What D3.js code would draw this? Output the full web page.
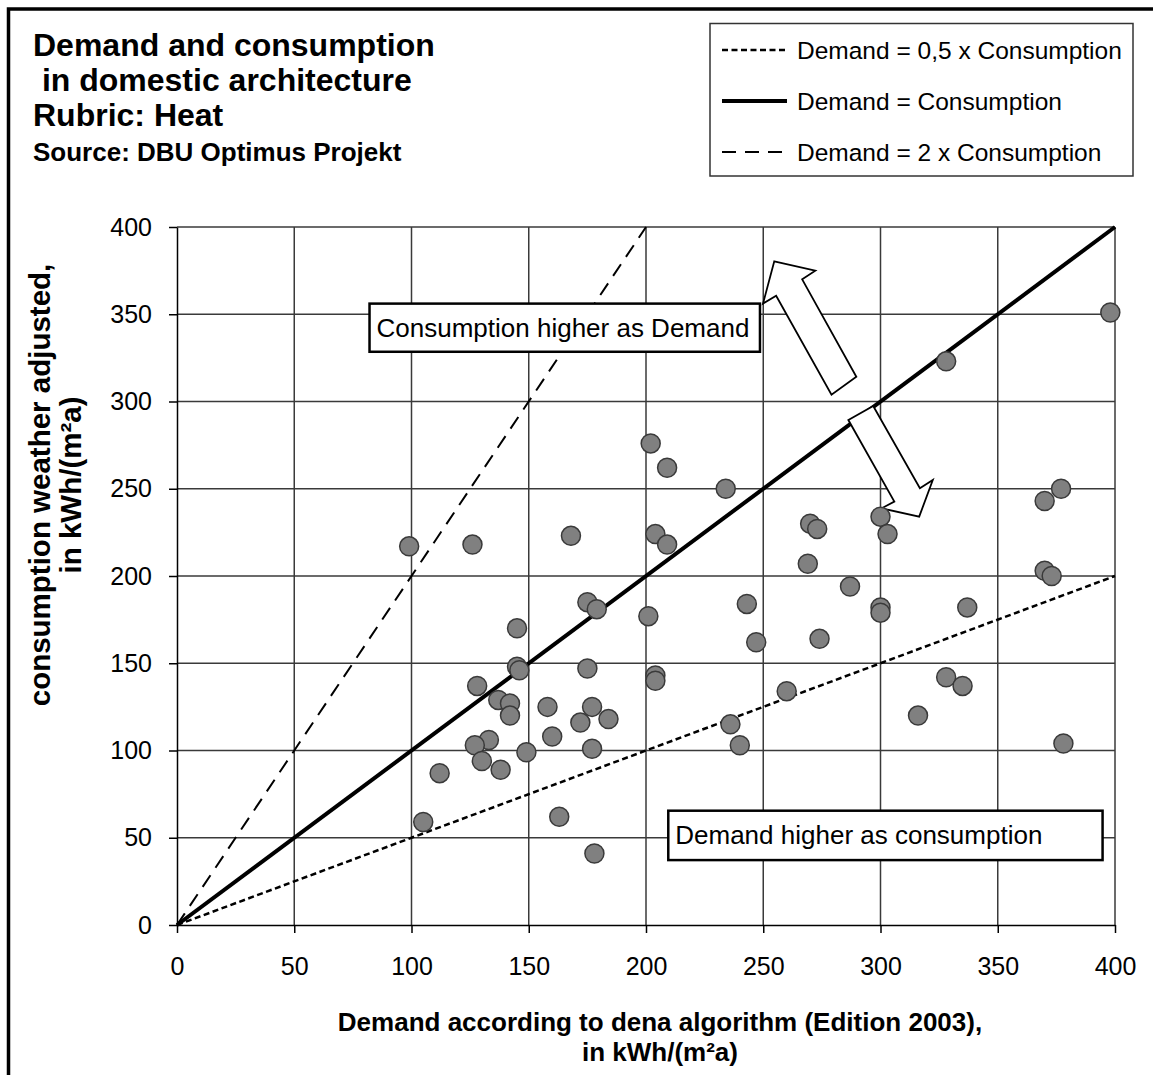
<!DOCTYPE html>
<html>
<head>
<meta charset="utf-8">
<script src="https://cdn.jsdelivr.net/npm/d3@7"></script>
<style>
body { margin:0; background:#fff; }
svg { display:block; font-family:"Liberation Sans", Arial, sans-serif; }
</style>
</head>
<body>
<div id="chart"></div>
<script>
// values (kWh/(m²a))
var demand = [202, 209, 234, 99, 126, 168, 204, 209, 175, 179, 201, 243, 247, 145, 145, 146,
	175, 204, 204, 128, 137, 142, 142, 158, 177, 172, 184, 160, 133, 127, 130, 149, 177, 138,
	112, 105, 163, 178, 236, 240, 260, 270, 273, 300, 303, 269, 287, 300, 300, 337, 370, 377,
	370, 373, 274, 328, 335, 316, 378, 398, 328];
var consumption = [276, 262, 250, 217, 218, 223, 224, 218, 185, 181, 177, 184, 162, 170, 148, 146,
	147, 143, 140, 137, 129, 127, 120, 125, 125, 116, 118, 108, 106, 103, 94, 99, 101, 89,
	87, 59, 62, 41, 115, 103, 134, 230, 227, 234, 224, 207, 194, 182, 179, 182, 243, 250,
	203, 200, 164, 142, 137, 120, 104, 351, 323];

var axisTicks = [0, 50, 100, 150, 200, 250, 300, 350, 400];

// reference lines: consumption = slope * demand
var refSlopes = [0.5, 1, 2];
var refLabels = ['Demand = 0,5 x Consumption', 'Demand = Consumption', 'Demand = 2 x Consumption'];

var titleLines = ['Demand and consumption', ' in domestic architecture', 'Rubric: Heat'];
var sourceLine = 'Source: DBU Optimus Projekt';
var xTitleLines = ['Demand according to dena algorithm (Edition 2003),', 'in kWh/(m²a)'];
var yTitleLines = ['consumption weather adjusted,', 'in kWh/(m²a)'];

// annotations, in data units
var noteUpper = {text: 'Consumption higher as Demand', x0: 82.1, x1: 248.6, y0: 356.1, y1: 328.5};
var noteLower = {text: 'Demand higher as consumption', x0: 209.5, x1: 394.7, y0: 65.5, y1: 37.2};
var arrowUp = [[254.7, 380.3], [272.2, 375], [266.6, 370], [289.7, 314.2], [279.1, 303.9], [255.5, 360.6], [249.9, 356.1]];
var arrowDown = [[286.3, 289.4], [296.9, 297.4], [316.8, 250.3], [322.3, 255], [316.5, 234], [300.5, 238.8], [305.9, 242.6]];

// layout
var svgWidth = 1153, svgHeight = 1075;
var plot = {left: 177, right: 1115, top: 227, bottom: 925};

var lineStyle = {
	0.5: {dash: '6,3.5', width: 2.5},
	1: {dash: null, width: 4},
	2: {dash: '14,9', width: 2}
};

var svg = d3.select('#chart').append('svg')
	.attr('width', svgWidth)
	.attr('height', svgHeight);

svg.append('rect').attr('width', svgWidth).attr('height', svgHeight).attr('fill', '#fff');

// outer frame (runs off the right and bottom edges)
svg.append('rect')
	.attr('x', 8.5).attr('y', 9)
	.attr('width', svgWidth + 20).attr('height', svgHeight + 20)
	.attr('fill', 'none').attr('stroke', '#000').attr('stroke-width', 3.5);

var x = d3.scaleLinear().domain([0, 400]).range([plot.left, plot.right]);
var y = d3.scaleLinear().domain([0, 400]).range([plot.bottom, plot.top]);

// gridlines
var grid = svg.append('g').attr('stroke', '#3a3a3a').attr('stroke-width', 1.5);
grid.selectAll('.gx').data(axisTicks.slice(1)).enter().append('line')
	.attr('x1', d => x(d)).attr('x2', d => x(d))
	.attr('y1', y(0)).attr('y2', y(400));
grid.selectAll('.gy').data(axisTicks.slice(1)).enter().append('line')
	.attr('x1', x(0)).attr('x2', x(400))
	.attr('y1', d => y(d)).attr('y2', d => y(d));

// axes
var xAxis = svg.append('g')
	.attr('transform', `translate(0,${plot.bottom})`)
	.call(d3.axisBottom(x).tickValues(axisTicks).tickSize(8).tickSizeOuter(0).tickPadding(24));
var yAxis = svg.append('g')
	.attr('transform', `translate(${plot.left},0)`)
	.call(d3.axisLeft(y).tickValues(axisTicks).tickSize(8).tickSizeOuter(0).tickPadding(17));
[xAxis, yAxis].forEach(a => {
	a.select('.domain').attr('stroke', '#000').attr('stroke-width', 1.5);
	a.selectAll('.tick line').attr('stroke', '#000').attr('stroke-width', 1.5);
	a.selectAll('.tick text')
		.attr('fill', '#000')
		.style('font-size', '25px')
		.style('font-family', '"Liberation Sans", Arial, sans-serif');
});

// reference lines
var refG = svg.append('g');
refSlopes.forEach(s => {
	var xEnd = Math.min(400, 400 / s);
	refG.append('line')
		.attr('x1', x(0)).attr('y1', y(0))
		.attr('x2', x(xEnd)).attr('y2', y(xEnd * s))
		.attr('stroke', '#000')
		.attr('stroke-width', lineStyle[s].width)
		.attr('stroke-dasharray', lineStyle[s].dash);
});

// annotation boxes
[noteUpper, noteLower].forEach(n => {
	svg.append('rect')
		.attr('x', x(n.x0)).attr('y', y(n.y0))
		.attr('width', x(n.x1) - x(n.x0)).attr('height', y(n.y1) - y(n.y0))
		.attr('fill', '#fff').attr('stroke', '#000').attr('stroke-width', 2.5);
	svg.append('text')
		.attr('x', x(n.x0) + 7)
		.attr('y', (y(n.y0) + y(n.y1)) / 2 + 9)
		.style('font-size', '26px')
		.text(n.text);
});

// arrows
var arrowLine = d3.line().x(d => x(d[0])).y(d => y(d[1]));
[arrowUp, arrowDown].forEach(a => {
	svg.append('path')
		.attr('d', arrowLine(a) + 'Z')
		.attr('fill', '#fff').attr('stroke', '#000').attr('stroke-width', 1.8)
		.attr('stroke-linejoin', 'miter');
});

// points
svg.append('g').selectAll('circle')
	.data(demand.map((d, i) => [d, consumption[i]]))
	.enter().append('circle')
	.attr('cx', d => x(d[0]))
	.attr('cy', d => y(d[1]))
	.attr('r', 9.5)
	.attr('fill', '#808080')
	.attr('stroke', '#3a3a3a')
	.attr('stroke-width', 1.5);

// title block
svg.selectAll('.title').data(titleLines).enter().append('text')
	.attr('x', 33)
	.attr('y', (d, i) => 56 + i * 35)
	.attr('xml:space', 'preserve')
	.style('font-size', '32px')
	.style('font-weight', 'bold')
	.text(d => d);
svg.append('text')
	.attr('x', 33).attr('y', 161)
	.style('font-size', '26px')
	.style('font-weight', 'bold')
	.text(sourceLine);

// legend
var legend = svg.append('g');
legend.append('rect')
	.attr('x', 710).attr('y', 23.5).attr('width', 423).attr('height', 152.5)
	.attr('fill', '#fff').attr('stroke', '#333').attr('stroke-width', 1.5);
refSlopes.forEach((s, i) => {
	var ly = 50 + i * 51;
	legend.append('line')
		.attr('x1', 722).attr('x2', 787).attr('y1', ly).attr('y2', ly)
		.attr('stroke', '#000')
		.attr('stroke-width', lineStyle[s].width)
		.attr('stroke-dasharray', lineStyle[s].dash);
	legend.append('text')
		.attr('x', 797).attr('y', ly + 9)
		.style('font-size', '24.5px')
		.text(refLabels[i]);
});

// axis titles
svg.selectAll('.xt').data(xTitleLines).enter().append('text')
	.attr('x', 660)
	.attr('y', (d, i) => 1031 + i * 30)
	.attr('text-anchor', 'middle')
	.style('font-size', '26px')
	.style('font-weight', 'bold')
	.text(d => d);
svg.selectAll('.yt').data(yTitleLines).enter().append('text')
	.attr('transform', (d, i) => `translate(${50 + i * 31},485)rotate(-90)`)
	.attr('text-anchor', 'middle')
	.style('font-size', '29.5px')
	.style('font-weight', 'bold')
	.text(d => d);
</script>
</body>
</html>
